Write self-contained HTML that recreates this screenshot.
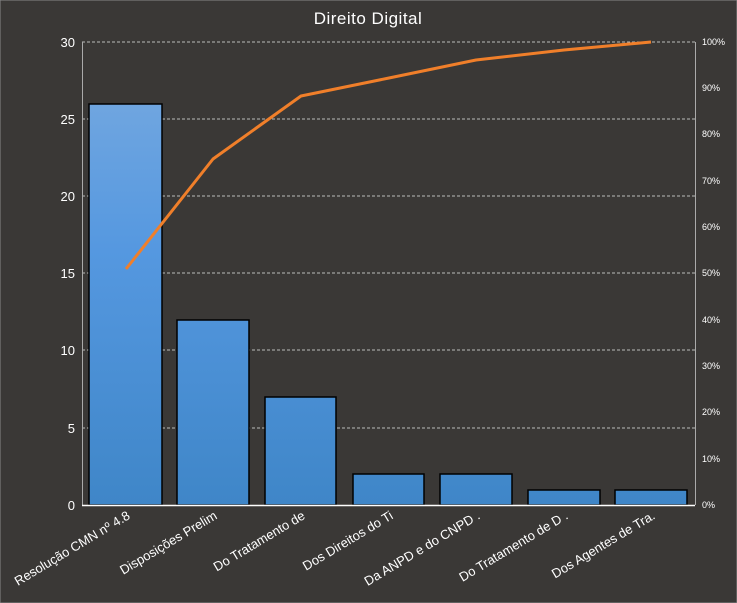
<!DOCTYPE html><html><head><style>body{margin:0;background:#3a3836;}svg{display:block}</style></head><body>
<svg width="737" height="603" xmlns="http://www.w3.org/2000/svg" font-family="Liberation Sans, DejaVu Sans, sans-serif">
<defs><linearGradient id="g" gradientUnits="userSpaceOnUse" x1="0" y1="42" x2="0" y2="505"><stop offset="0" stop-color="#7aabe0"/><stop offset="0.45" stop-color="#5598e0"/><stop offset="1" stop-color="#3f86c8"/></linearGradient></defs>
<rect x="0" y="0" width="737" height="603" fill="#3a3836" stroke="#888" stroke-width="1"/>
<text x="368" y="24" fill="#fff" font-size="17" text-anchor="middle" letter-spacing="0.5">Direito  Digital</text>
<g stroke="#bbb" stroke-dasharray="3,2" stroke-width="1">
<line x1="82" y1="42" x2="695" y2="42"/><line x1="82" y1="119" x2="695" y2="119"/><line x1="82" y1="196" x2="695" y2="196"/><line x1="82" y1="273" x2="695" y2="273"/><line x1="82" y1="350" x2="695" y2="350"/><line x1="82" y1="428" x2="695" y2="428"/>
</g>
<line x1="82.5" y1="42" x2="82.5" y2="505" stroke="#aaa"/>
<line x1="695.5" y1="42" x2="695.5" y2="505" stroke="#aaa"/>
<g fill="url(#g)" stroke="#000" stroke-width="1.5">
<rect x="89" y="104" width="73" height="401"/><rect x="177" y="320" width="72" height="185"/><rect x="265" y="397" width="71" height="108"/><rect x="353" y="474" width="71" height="31"/><rect x="440" y="474" width="72" height="31"/><rect x="528" y="490" width="72" height="15"/><rect x="615" y="490" width="72" height="15"/>
</g>
<line x1="82" y1="505.5" x2="695" y2="505.5" stroke="#fff" stroke-width="1.5"/>
<polyline points="126,269 213,159 301,96 389,78 476,60 564,50 651,42" fill="none" stroke="#f07f2a" stroke-width="3" stroke-linejoin="round"/>
<g fill="#fff" font-size="13" text-anchor="end">
<text x="75" y="47">30</text><text x="75" y="124">25</text><text x="75" y="201">20</text><text x="75" y="278">15</text><text x="75" y="355">10</text><text x="75" y="433">5</text><text x="75" y="510">0</text>
</g>
<g fill="#fff" font-size="9">
<text x="702" y="45">100%</text><text x="702" y="91">90%</text><text x="702" y="137">80%</text><text x="702" y="184">70%</text><text x="702" y="230">60%</text><text x="702" y="276">50%</text><text x="702" y="323">40%</text><text x="702" y="369">30%</text><text x="702" y="415">20%</text><text x="702" y="462">10%</text><text x="702" y="508">0%</text>
</g>
<g fill="#fff" font-size="13" text-anchor="end">
<text transform="translate(131,518) rotate(-31)">Resolução CMN nº 4.8</text>
<text transform="translate(218,518) rotate(-31)">Disposições Prelim</text>
<text transform="translate(306,518) rotate(-31)">Do Tratamento de</text>
<text transform="translate(394,518) rotate(-31)">Dos Direitos do Ti</text>
<text transform="translate(481,518) rotate(-31)">Da ANPD e do CNPD .</text>
<text transform="translate(569,518) rotate(-31)">Do Tratamento de D .</text>
<text transform="translate(656,518) rotate(-31)">Dos Agentes de Tra.</text>
</g>
</svg></body></html>
